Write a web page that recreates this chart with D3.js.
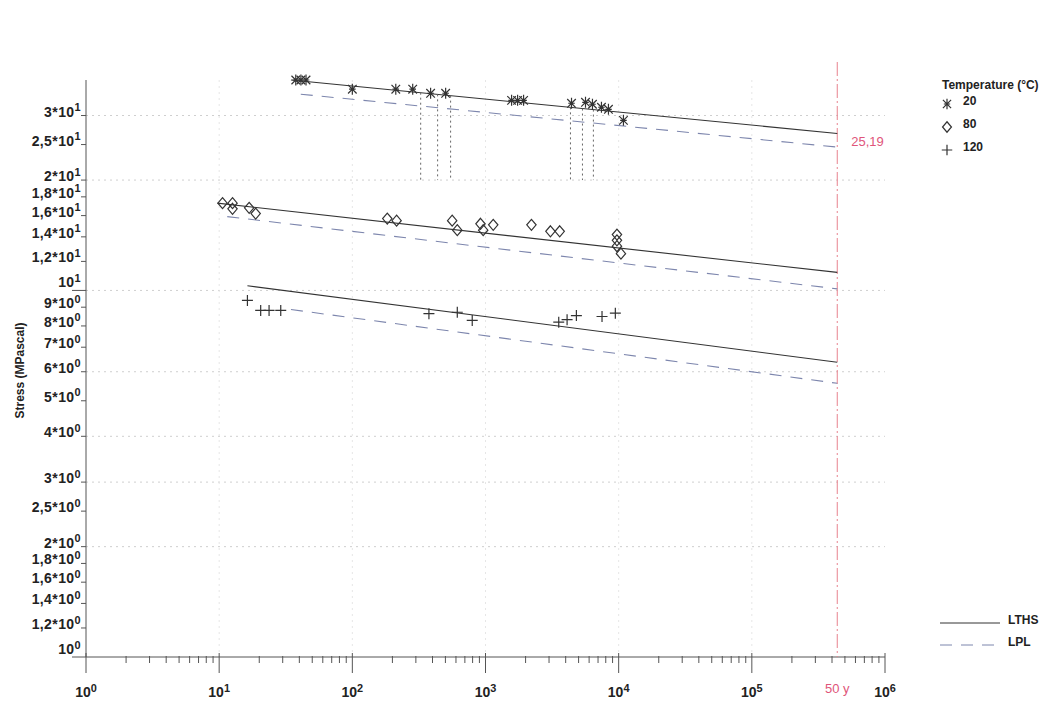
<!DOCTYPE html>
<html>
<head>
<meta charset="utf-8">
<script src="https://cdn.jsdelivr.net/npm/d3@7"></script>
<style>
  body { margin: 0; background: #fff; }
  text { font-family: "Liberation Sans", Arial, sans-serif; }
</style>
</head>
<body>
<div class="canvas"></div>
<script>
// creep rupture data: time to failure (h) vs stress (MPa)
const temps = [20, 80, 120];

const time20 = [37.6, 41.1, 44.9, 100, 212, 284, 387, 502, 1570, 1742, 1932, 4425, 5636, 6357, 7425, 8380, 10860];
const stress20 = [37.5, 37.5, 37.5, 35.4, 35.4, 35.4, 34.5, 34.5, 33.0, 33.0, 33.0, 32.4, 32.6, 32.2, 31.6, 31.2, 29.1];

const time80 = [10.6, 12.6, 12.6, 16.8, 18.8, 183, 215, 562, 614, 917, 961, 1143, 2213, 3073, 3608, 9708, 9708, 9708, 10400];
const stress80 = [17.3, 17.3, 16.7, 16.8, 16.2, 15.7, 15.5, 15.5, 14.6, 15.2, 14.6, 15.1, 15.1, 14.5, 14.5, 14.2, 13.7, 13.2, 12.6];

const time120 = [16.3, 20.5, 23.7, 29.0, 376, 614, 795, 3548, 4099, 4814, 7499, 9441];
const stress120 = [9.39, 8.82, 8.82, 8.82, 8.64, 8.72, 8.28, 8.19, 8.32, 8.54, 8.49, 8.67];

// regression lines (per temperature): start time and stress, and stress at 50 years
const lthsStartTime = [34.6, 9.7, 16.3];
const lthsStart = [37.5, 17.3, 10.3];
const lthsEnd = [26.8, 11.2, 6.37];
const lplStartTime = [41, 11.5, 34.6];
const lplStart = [34.3, 15.9, 8.87];
const lplEnd = [24.6, 10.1, 5.58];
const fiftyYears = 50 * 8760;
const lplLabel = '25,19';

// dotted drop lines under the 20 °C points
const dropTimes = [326, 437, 547, 4345, 5347, 6458];

const yTicks = [30, 25, 20, 18, 16, 14, 12, 10, 9, 8, 7, 6, 5, 4, 3, 2.5, 2, 1.8, 1.6, 1.4, 1.2, 1];
const xTicks = [1, 10, 100, 1e3, 1e4, 1e5, 1e6];
const gridStress = [30, 20, 10, 6, 4, 3, 2];

const dims = { w: 1061, h: 719 };
const plot = { left: 86, right: 885, top: 80, bottom: 657 };

const svg = d3.select('.canvas')
  .append('svg')
    .attr('width', dims.w)
    .attr('height', dims.h);

const x = d3.scaleLog().domain([1, 1e6]).range([plot.left, plot.right]);
const y = d3.scaleLog().domain([1, 37.5]).range([plot.bottom, plot.top]);

// superscript labels like 2,5*10^1
const supLabel = (sel, base, exp) => {
  sel.text(null);
  sel.append('tspan').text(base);
  sel.append('tspan').attr('dy', '-0.5em').attr('font-size', '0.78em').text(exp);
};

// faint grid
svg.append('g')
  .selectAll('line')
  .data(gridStress)
  .join('line')
    .attr('x1', plot.left).attr('x2', plot.right)
    .attr('y1', d => y(d)).attr('y2', d => y(d))
    .attr('stroke', '#cfcfcf')
    .attr('stroke-dasharray', '2,4');

svg.append('g')
  .selectAll('line')
  .data(xTicks.slice(1, -1))
  .join('line')
    .attr('x1', d => x(d)).attr('x2', d => x(d))
    .attr('y1', plot.top).attr('y2', plot.bottom)
    .attr('stroke', '#e6e6e6')
    .attr('stroke-dasharray', '2,4');

// x axis
const xMinor = [];
d3.range(0, 6).forEach(e => d3.range(2, 10).forEach(m => xMinor.push(m * 10 ** e)));

const gx = svg.append('g')
  .attr('transform', `translate(0,${plot.bottom})`);

gx.append('line')
  .attr('x1', plot.left).attr('x2', plot.right)
  .attr('stroke', '#555');

gx.selectAll('.minor')
  .data(xMinor)
  .join('line')
    .attr('class', 'minor')
    .attr('x1', d => x(d)).attr('x2', d => x(d))
    .attr('y1', -1).attr('y2', 6)
    .attr('stroke', '#555');

gx.selectAll('.major')
  .data(xTicks)
  .join('line')
    .attr('class', 'major')
    .attr('x1', d => x(d)).attr('x2', d => x(d))
    .attr('y1', -4).attr('y2', 16)
    .attr('stroke', '#555');

gx.selectAll('text')
  .data(xTicks)
  .join('text')
    .attr('x', d => x(d))
    .attr('y', 40)
    .attr('text-anchor', 'middle')
    .attr('font-size', 14)
    .attr('font-weight', 'bold')
    .attr('fill', '#222')
    .each(function(d) { supLabel(d3.select(this), '10', Math.round(Math.log10(d))); });

// y axis
const gy = svg.append('g')
  .attr('transform', `translate(${plot.left},0)`);

gy.append('line')
  .attr('y1', plot.top).attr('y2', plot.bottom)
  .attr('stroke', '#555');

const isDecade = d => Math.abs(Math.log10(d) % 1) < 1e-9;

gy.selectAll('.tick')
  .data(yTicks)
  .join('line')
    .attr('class', 'tick')
    .attr('x1', d => isDecade(d) ? -14 : -5).attr('x2', 0)
    .attr('y1', d => y(d)).attr('y2', d => y(d))
    .attr('stroke', '#555');

gy.selectAll('text')
  .data(yTicks)
  .join('text')
    .attr('x', -5)
    .attr('y', d => y(d) + (isDecade(d) ? -3 : 1))
    .attr('text-anchor', 'end')
    .attr('font-size', 14)
    .attr('font-weight', 'bold')
    .attr('letter-spacing', 0.4)
    .attr('fill', '#222')
    .each(function(d) {
      const e = Math.floor(Math.log10(d) + 1e-9);
      const m = +(d / 10 ** e).toFixed(1);
      const base = m === 1 ? '10' : `${String(m).replace('.', ',')}*10`;
      supLabel(d3.select(this), base, e);
    });

svg.append('text')
  .attr('transform', `translate(24,${(plot.top + plot.bottom) / 2 + 2}) rotate(-90)`)
  .attr('text-anchor', 'middle')
  .attr('font-size', 12)
  .attr('font-weight', 'bold')
  .attr('fill', '#222')
  .text('Stress (MPascal)');

// 50 year marker
svg.append('line')
  .attr('x1', x(fiftyYears)).attr('x2', x(fiftyYears))
  .attr('y1', 62).attr('y2', plot.bottom)
  .attr('stroke', '#e8838f')
  .attr('stroke-dasharray', '14,3,2,3');

svg.append('text')
  .attr('x', x(fiftyYears))
  .attr('y', plot.bottom + 36)
  .attr('text-anchor', 'middle')
  .attr('font-size', 13)
  .attr('fill', '#e0557a')
  .text('50 y');

svg.append('text')
  .attr('x', x(fiftyYears) + 14)
  .attr('y', y(lplEnd[0]) - 1)
  .attr('font-size', 13)
  .attr('fill', '#e0557a')
  .text(lplLabel);

// regression lines
const lineGen = d3.line().x(d => x(d[0])).y(d => y(d[1]));

temps.forEach((t, i) => {
  svg.append('path')
    .attr('d', lineGen([[lthsStartTime[i], lthsStart[i]], [fiftyYears, lthsEnd[i]]]))
    .attr('fill', 'none')
    .attr('stroke', '#333')
    .attr('stroke-width', 1.1);

  svg.append('path')
    .attr('d', lineGen([[lplStartTime[i], lplStart[i]], [fiftyYears, lplEnd[i]]]))
    .attr('fill', 'none')
    .attr('stroke', '#7d86ad')
    .attr('stroke-width', 1.1)
    .attr('stroke-dasharray', '12,9');
});

// drop lines from the 20 °C LTHS line down to 20 MPa
const lthsAt = (i, t) => {
  const l0 = Math.log10(lthsStartTime[i]);
  const k = (Math.log10(t) - l0) / (Math.log10(fiftyYears) - l0);
  return 10 ** (Math.log10(lthsStart[i]) + k * (Math.log10(lthsEnd[i]) - Math.log10(lthsStart[i])));
};

svg.append('g')
  .selectAll('line')
  .data(dropTimes)
  .join('line')
    .attr('x1', d => x(d)).attr('x2', d => x(d))
    .attr('y1', d => y(lthsAt(0, d))).attr('y2', y(20))
    .attr('stroke', '#666')
    .attr('stroke-dasharray', '2,3');

// marker shapes
const asterisk = {
  draw(ctx, size) {
    const r = Math.sqrt(size) / 2;
    const d = r * 0.78;
    ctx.moveTo(0, -r); ctx.lineTo(0, r);
    ctx.moveTo(-d, -d); ctx.lineTo(d, d);
    ctx.moveTo(-d, d); ctx.lineTo(d, -d);
    ctx.moveTo(-r * 0.6, 0); ctx.lineTo(r * 0.6, 0);
  }
};
const diamond = {
  draw(ctx, size) {
    const r = Math.sqrt(size) / 2;
    ctx.moveTo(0, -r); ctx.lineTo(r * 0.85, 0); ctx.lineTo(0, r); ctx.lineTo(-r * 0.85, 0); ctx.closePath();
  }
};
const plus = {
  draw(ctx, size) {
    const r = Math.sqrt(size) / 2;
    ctx.moveTo(0, -r); ctx.lineTo(0, r);
    ctx.moveTo(-r, 0); ctx.lineTo(r, 0);
  }
};

const shapes = [asterisk, diamond, plus];
const series = [
  d3.zip(time20, stress20),
  d3.zip(time80, stress80),
  d3.zip(time120, stress120)
];

series.forEach((pts, i) => {
  svg.append('g')
    .selectAll('path')
    .data(pts)
    .join('path')
      .attr('transform', d => `translate(${x(d[0])},${y(d[1])})`)
      .attr('d', d3.symbol().type(shapes[i]).size(121))
      .attr('fill', 'none')
      .attr('stroke', '#333')
      .attr('stroke-width', 1.2);
});

// legend: temperatures
const legend = svg.append('g')
  .attr('transform', 'translate(942,0)');

legend.append('text')
  .attr('x', 0).attr('y', 89)
  .attr('font-size', 12)
  .attr('font-weight', 'bold')
  .attr('fill', '#222')
  .text('Temperature (°C)');

temps.forEach((t, i) => {
  const cy = 104 + i * 23;
  legend.append('path')
    .attr('transform', `translate(5,${cy})`)
    .attr('d', d3.symbol().type(shapes[i]).size(110))
    .attr('fill', 'none')
    .attr('stroke', '#333')
    .attr('stroke-width', 1.2);
  legend.append('text')
    .attr('x', 21).attr('y', cy + 1)
    .attr('font-size', 12)
    .attr('font-weight', 'bold')
    .attr('fill', '#222')
    .text(t);
});

// legend: line types
const lineLegend = [
  { name: 'LTHS', stroke: '#333', dash: null },
  { name: 'LPL', stroke: '#7d86ad', dash: '12,9' }
];

lineLegend.forEach((l, i) => {
  const cy = 623 + i * 22;
  svg.append('line')
    .attr('x1', 940).attr('x2', 1000)
    .attr('y1', cy).attr('y2', cy)
    .attr('stroke', l.stroke)
    .attr('stroke-dasharray', l.dash);
  svg.append('text')
    .attr('x', 1008).attr('y', cy + 1)
    .attr('font-size', 12)
    .attr('font-weight', 'bold')
    .attr('fill', '#222')
    .text(l.name);
});
</script>
</body>
</html>
